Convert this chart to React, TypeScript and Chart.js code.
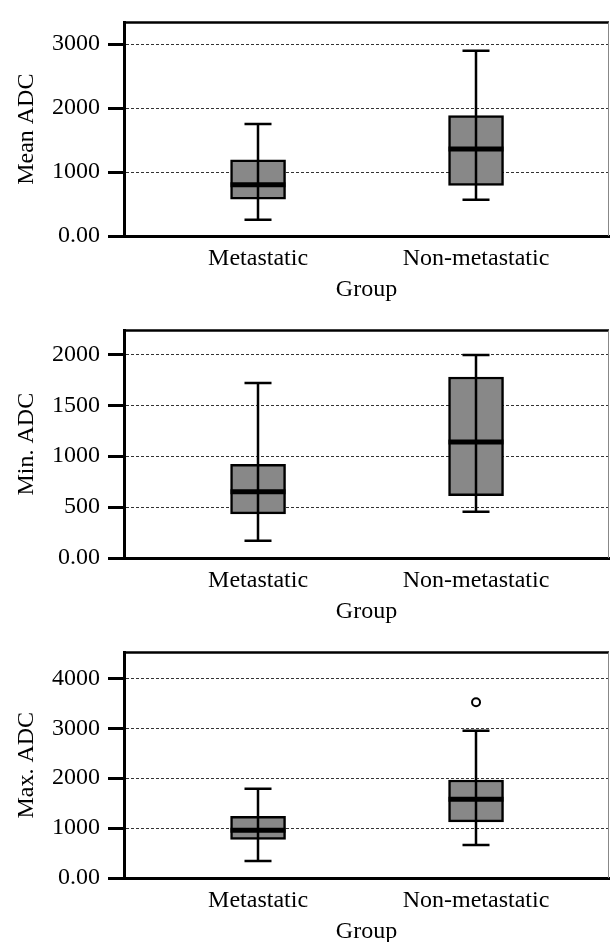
import React, { useEffect, useRef } from 'react';
import { Chart, registerables } from 'chart.js';

Chart.register(...registerables);
Chart.defaults.font.family = '"Liberation Serif", "Times New Roman", serif';
Chart.defaults.font.size = 24;
Chart.defaults.color = '#000';

// ---- data ----
const groups = ['Metastatic', 'Non-metastatic'];
const groupPositions = [1, 2];

const meanLow = [253, 565];
const meanQ1 = [575, 790];
const meanMedian = [800, 1361];
const meanQ3 = [1190, 1882];
const meanHigh = [1750, 2898];
const meanOutliers: number[][] = [[], []];
const meanTicks = [0, 1000, 2000, 3000];

const minLow = [170, 454];
const minQ1 = [434, 611];
const minMedian = [650, 1140];
const minQ3 = [921, 1777];
const minHigh = [1719, 1993];
const minOutliers: number[][] = [[], []];
const minTicks = [0, 500, 1000, 1500, 2000];

const maxLow = [343, 661];
const maxQ1 = [774, 1123];
const maxMedian = [958, 1580];
const maxQ3 = [1236, 1964];
const maxHigh = [1786, 2948];
const maxOutliers: number[][] = [[], [3520]];
const maxTicks = [0, 1000, 2000, 3000, 4000];

const BOX_WIDTH = 55;
const CAP_WIDTH = 27;

type Spec = {
  title: string;
  low: number[];
  q1: number[];
  median: number[];
  q3: number[];
  high: number[];
  outliers: number[][];
  ticks: number[];
  yMax: number;
  top: number;
  height: number;
  padTop: number;
};

const panels: Spec[] = [
  { title: 'Mean ADC', low: meanLow, q1: meanQ1, median: meanMedian, q3: meanQ3, high: meanHigh, outliers: meanOutliers, ticks: meanTicks, yMax: 3340, top: 0, height: 308, padTop: 8 },
  { title: 'Min. ADC', low: minLow, q1: minQ1, median: minMedian, q3: minQ3, high: minHigh, outliers: minOutliers, ticks: minTicks, yMax: 2235, top: 308, height: 322, padTop: 22 },
  { title: 'Max. ADC', low: maxLow, q1: maxQ1, median: maxMedian, q3: maxQ3, high: maxHigh, outliers: maxOutliers, ticks: maxTicks, yMax: 4520, top: 630, height: 320, padTop: 20 },
];

function makeBoxPlugin(spec: Spec) {
  return {
    id: 'boxWhisker',
    afterDatasetsDraw(chart: any) {
      const ctx = chart.ctx;
      const xs = chart.scales.x;
      const ys = chart.scales.y;
      ctx.save();
      ctx.strokeStyle = '#000';
      ctx.lineCap = 'butt';
      groupPositions.forEach((g, i) => {
        const x = Math.round(xs.getPixelForValue(g));
        const yLo = ys.getPixelForValue(spec.low[i]);
        const yHi = ys.getPixelForValue(spec.high[i]);
        const yMed = ys.getPixelForValue(spec.median[i]);
        ctx.lineWidth = 2.5;
        ctx.beginPath();
        ctx.moveTo(x, yLo);
        ctx.lineTo(x, yHi);
        ctx.moveTo(x - CAP_WIDTH / 2, yHi);
        ctx.lineTo(x + CAP_WIDTH / 2, yHi);
        ctx.moveTo(x - CAP_WIDTH / 2, yLo);
        ctx.lineTo(x + CAP_WIDTH / 2, yLo);
        ctx.stroke();
        ctx.lineWidth = 5;
        ctx.beginPath();
        ctx.moveTo(x - BOX_WIDTH / 2, yMed);
        ctx.lineTo(x + BOX_WIDTH / 2, yMed);
        ctx.stroke();
      });
      ctx.restore();
    },
    afterDraw(chart: any) {
      const ctx = chart.ctx;
      const a = chart.chartArea;
      ctx.save();
      ctx.strokeStyle = '#000';
      ctx.lineWidth = 2.5;
      ctx.beginPath();
      ctx.moveTo(a.left, a.top);
      ctx.lineTo(a.right, a.top);
      ctx.stroke();
      ctx.strokeStyle = '#888';
      ctx.lineWidth = 1;
      ctx.beginPath();
      ctx.moveTo(a.right - 0.5, a.top);
      ctx.lineTo(a.right - 0.5, a.bottom);
      ctx.stroke();
      ctx.restore();
    },
  };
}

function Panel({ spec }: { spec: Spec }) {
  const ref = useRef<HTMLCanvasElement | null>(null);
  useEffect(() => {
    if (!ref.current) return;
    const outlierPoints: { x: number; y: number }[] = [];
    spec.outliers.forEach((arr, i) => arr.forEach((v) => outlierPoints.push({ x: groupPositions[i], y: v })));
    const chart = new Chart(ref.current, {
      type: 'bar',
      data: {
        datasets: [
          {
            type: 'bar',
            data: groupPositions.map((g, i) => ({ x: g, y: [spec.q1[i], spec.q3[i]] })) as any,
            backgroundColor: '#888888',
            borderColor: '#000',
            borderWidth: 2.5,
            borderSkipped: false,
            barThickness: BOX_WIDTH,
          } as any,
          {
            type: 'scatter',
            data: outlierPoints,
            pointRadius: 4,
            pointBorderWidth: 2,
            pointBackgroundColor: '#fff',
            pointBorderColor: '#000',
            showLine: false,
          } as any,
        ],
      },
      options: {
        responsive: false,
        animation: false,
        layout: { autoPadding: false, padding: { top: spec.padTop, right: 1, left: 0, bottom: 0 } },
        plugins: { legend: { display: false }, tooltip: { enabled: false } },
        scales: {
          x: {
            type: 'linear',
            min: 0.385,
            max: 2.61,
            offset: false,
            grid: { display: false, drawTicks: false, offset: false },
            border: { display: true, color: '#000', width: 3 },
            ticks: {
              padding: 8,
              maxRotation: 0,
              autoSkip: false,
              callback: (v: any) => {
                const i = groupPositions.indexOf(Number(v));
                return i >= 0 ? groups[i] : '';
              },
            },
            afterBuildTicks: (s: any) => {
              s.ticks = groupPositions.map((v) => ({ value: v }));
            },
            afterFit: (s: any) => {
              s.height = 72;
            },
            title: { display: true, text: 'Group', padding: { top: 0, bottom: 4 } },
          },
          y: {
            type: 'linear',
            min: 0,
            max: spec.yMax,
            afterBuildTicks: (s: any) => {
              s.ticks = spec.ticks.map((v) => ({ value: v }));
            },
            afterFit: (s: any) => {
              s.width = 124;
            },
            ticks: {
              padding: 8,
              callback: (v: any) => (Number(v) === 0 ? '0.00' : String(v)),
            },
            grid: { color: '#333', lineWidth: 1, tickColor: '#000', tickWidth: 3, tickLength: 16, tickBorderDash: [] },
            border: { display: true, color: '#000', width: 3, dash: [3, 2] },
            title: { display: true, text: spec.title, padding: { top: 12, bottom: 0 } },
          },
        },
      } as any,
      plugins: [makeBoxPlugin(spec)],
    });
    return () => chart.destroy();
  }, [spec]);
  return (
    <canvas
      ref={ref}
      width={610}
      height={spec.height}
      style={{ position: 'absolute', left: 0, top: spec.top, display: 'block', width: 610, height: spec.height }}
    />
  );
}

export default function App() {
  return (
    <div style={{ position: 'absolute', left: 0, top: 0, width: 610, height: 942, overflow: 'hidden', background: '#fff' }}>
      {panels.map((p) => (
        <Panel key={p.title} spec={p} />
      ))}
    </div>
  );
}
